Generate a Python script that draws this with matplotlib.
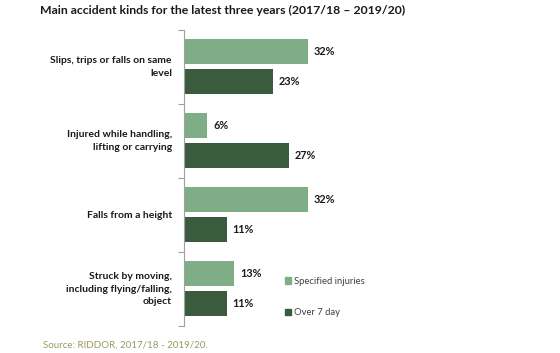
import matplotlib
matplotlib.use("Agg")
import matplotlib.pyplot as plt
from matplotlib.patches import Patch
import numpy as np

plt.rcParams['font.family'] = ['Lato', 'DejaVu Sans']

# Data
categories = ["Slips, trips or falls on same\nlevel",
              "Injured while handling,\nlifting or carrying",
              "Falls from a height",
              "Struck by moving,\nincluding flying/falling,\nobject"]
specified = [32, 6, 32, 13]
over7 = [23, 27, 11, 11]
series_names = ["Specified injuries", "Over 7 day"]

light = "#7fad86"
dark = "#3b5b3f"

fig = plt.figure(figsize=(5.6, 3.53), dpi=100)
ax = fig.add_axes([184 / 560, 1 - 326 / 353, 160 / 560, 296 / 353])

y = np.arange(len(categories))
h = 25 / 74
ax.barh(y - 0.205, specified, height=h, color=light)
ax.barh(y + 0.2, over7, height=h, color=dark)

for yi, v in zip(y, specified):
    ax.text(v + 1.5, yi - 0.205, f"{v}%", va="center", ha="left",
            fontsize=7.8, fontweight="bold", color="#1a1a1a")
for yi, v in zip(y, over7):
    ax.text(v + 1.5, yi + 0.2, f"{v}%", va="center", ha="left",
            fontsize=7.8, fontweight="bold", color="#1a1a1a")

ax.set_ylim(len(categories) - 0.5, -0.5)
ax.set_xlim(0, 160 / 3.875)
ax.set_xticks([])
ax.set_yticks(np.arange(-0.5, len(categories) + 0.5, 1.0))
ax.set_yticklabels([])
ax.tick_params(axis="y", length=4, color="#a0a0a0", width=0.8)
for s in ["top", "right", "bottom"]:
    ax.spines[s].set_visible(False)
ax.spines["left"].set_color("#a0a0a0")
ax.spines["left"].set_linewidth(0.8)

for yi, lab in zip(y, categories):
    ax.text(-12 / 3.875, yi, lab, ha="right", va="center", fontsize=7.5,
            fontweight="bold", color="#1a1a1a", linespacing=1.45)

handles = [Patch(color=light), Patch(color=dark)]
fig.legend(handles, series_names, loc="upper left",
           bbox_to_anchor=(276 / 560, 1 - 268 / 353), frameon=False,
           fontsize=6.8, handlelength=0.7, handleheight=0.7,
           handletextpad=0.3, labelspacing=2.4, labelcolor="#404040")

fig.text(43 / 560, 1 - 345 / 353, "Source: RIDDOR, 2017/18 - 2019/20.",
         fontsize=7, color="#9b9a5e", va="center", ha="left")
fig.text(40 / 560, 1 - 10 / 353,
         "Main accident kinds for the latest three years (2017/18 \u2013 2019/20)",
         fontsize=8.8, fontweight="bold", color="#1a1a1a", va="center", ha="left")

fig.savefig("out.png", dpi=100)
